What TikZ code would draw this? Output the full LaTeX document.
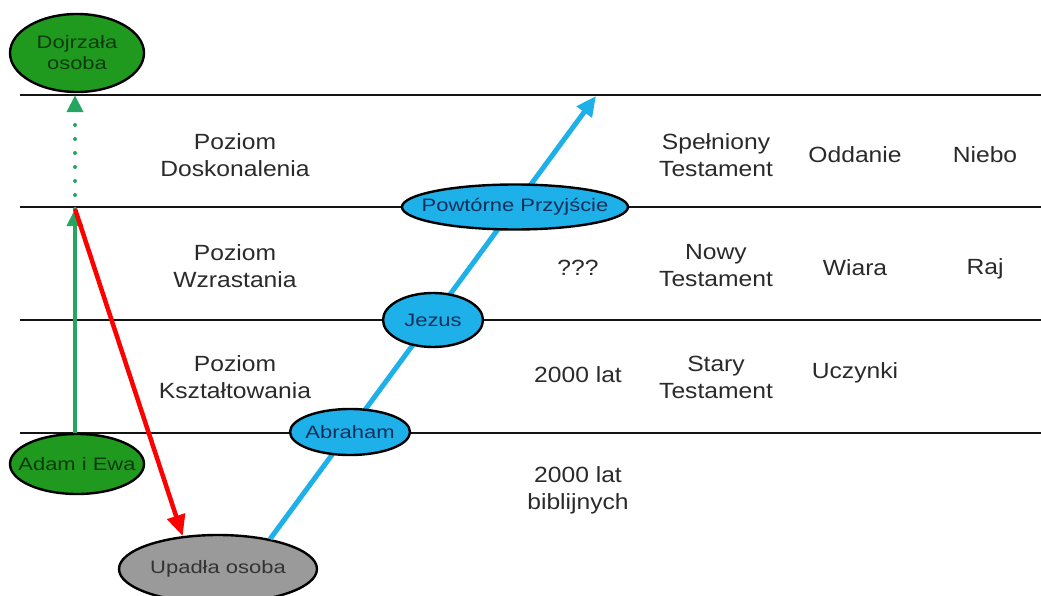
\documentclass[tikz,border=0pt]{standalone}
\usepackage{fontspec}
\setmainfont[FakeStretch=1.12]{Liberation Sans}
\newfontfamily\ovalfont[FakeStretch=1.22]{Liberation Sans}
\usetikzlibrary{shapes.geometric,arrows.meta}
\definecolor{ink}{HTML}{2A2A2A}
\definecolor{leaf}{HTML}{1F9A1F}
\definecolor{leafdark}{HTML}{0E3A10}
\definecolor{stem}{HTML}{25A560}
\definecolor{sky}{HTML}{1EB0E8}
\definecolor{skydark}{HTML}{14305A}
\definecolor{fallen}{HTML}{9A9A9A}
\begin{document}
\begin{tikzpicture}[x=1pt,y=-1pt,
  level/.style={line width=2.6pt,color=black!92},
  lbl/.style={align=center,text=ink,font=\fontsize{22}{27}\selectfont,inner sep=0pt},
  % fixed-size ellipse; its caption is a centred label so it never widens the shape
  oval/.style={ellipse,draw=black,line width=2.4pt,inner sep=0pt,
    label={[inner sep=0pt,align=center,font=\ovalfont\fontsize{18}{21}\selectfont,text=#1]center:\ovaltext}},
  greenoval/.style={oval=leafdark,fill=leaf},
  blueoval/.style={oval=skydark,fill=sky},
  greyoval/.style={oval=black!80,fill=fallen},
  growth/.style={line width=4pt,color=stem,-{Triangle[length=17pt,width=16pt]}},
  ripen/.style={line width=4pt,color=stem,line cap=round,dash pattern=on 0pt off 14pt,-{Triangle[length=17pt,width=16pt]}},
  fall/.style={line width=4.5pt,color=red,-{Triangle[length=21pt,width=18pt]}},
  restore/.style={line width=5pt,color=sky,-{Triangle[length=20pt,width=18pt]}}]
\useasboundingbox (0,0) rectangle (1041,596);

% the four horizontal levels
\draw[level] (20,95) -- (1041,95);
\draw[level] (20,207) -- (1041,207);
\draw[level] (20,320) -- (1041,320);
\draw[level] (20,433) -- (1041,433);

% row labels
\node[lbl] (l1) at (235,155) {Poziom\\Doskonalenia};
\node[lbl] (l2) at (235,266) {Poziom\\Wzrastania};
\node[lbl] (l3) at (235,377) {Poziom\\Kształtowania};
\node[lbl] (q)  at (578,268) {???};
\node[lbl] (y1) at (578,375) {2000 lat};
\node[lbl] (y2) at (578,490) {2000 lat\\biblijnych};
\node[lbl] (t1) at (716,155) {Spełniony\\Testament};
\node[lbl] (t2) at (716,266) {Nowy\\Testament};
\node[lbl] (t3) at (716,377) {Stary\\Testament};
\node[lbl] (a1) at (855,155) {Oddanie};
\node[lbl] (a2) at (855,268) {Wiara};
\node[lbl] (a3) at (855,373) {Uczynki};
\node[lbl] (p1) at (985,155) {Niebo};
\node[lbl] (p2) at (985,269) {Raj};

% people
\def\ovaltext{Dojrzała\\osoba}
\node[greenoval,minimum width=134pt,minimum height=78pt] (dojr) at (77,53) {};
\def\ovaltext{Adam i Ewa}
\node[greenoval,minimum width=134pt,minimum height=60pt] (adam) at (77,464) {};
\def\ovaltext{Upadła osoba}
\node[greyoval,minimum width=198pt,minimum height=68pt] (upadla) at (218,569) {};

\coordinate (fork) at (75,209);
\coordinate (top) at (596,96);

% arrows
\draw[restore] (upadla.30) -- (top);
\draw[growth] (adam.north -| fork) -- (fork);
\draw[ripen] (fork) -- ([yshift=-2pt]dojr.south -| fork);
\draw[fall] (fork) -- (upadla.137);

% milestones on the way back
\def\ovaltext{Powtórne Przyjście}
\node[blueoval,minimum width=226pt,minimum height=45pt] (powrot) at (515,207) {};
\def\ovaltext{Jezus}
\node[blueoval,minimum width=100pt,minimum height=54pt] (jezus) at (433,320) {};
\def\ovaltext{Abraham}
\node[blueoval,minimum width=120pt,minimum height=46pt] (abr) at (350,432) {};
\end{tikzpicture}
\end{document}
